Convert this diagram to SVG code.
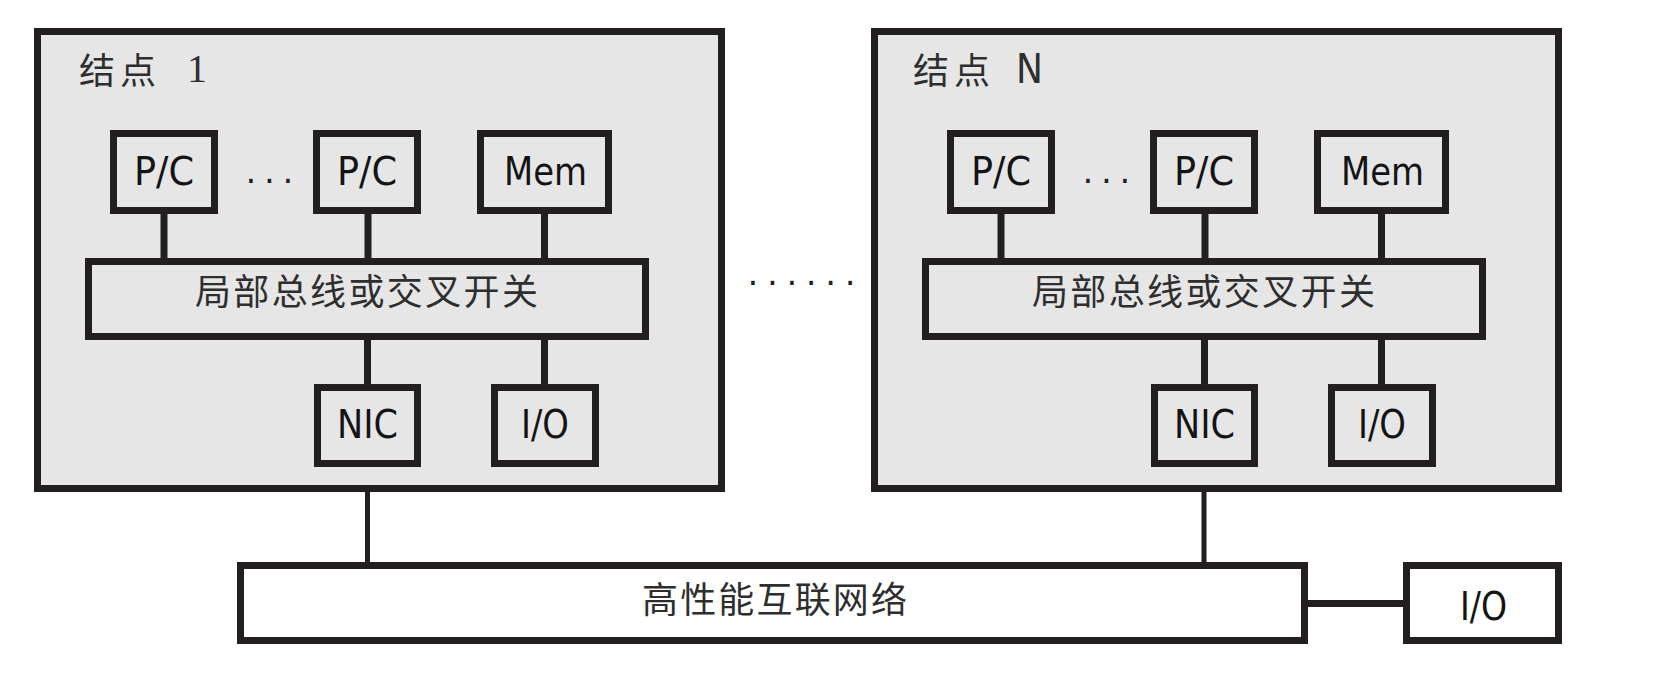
<svg xmlns="http://www.w3.org/2000/svg" width="1663" height="673" viewBox="0 0 1663 673">
<style>
.box{fill:#e6e6e6;stroke:#231f20;stroke-width:7}
.wbox{fill:#ffffff;stroke:#231f20;stroke-width:7}
.ln{stroke:#231f20;stroke-width:7;fill:none}
.thin{stroke:#231f20;stroke-width:5;fill:none}
.lbl{font-family:"DejaVu Sans Condensed","DejaVu Sans",sans-serif;font-size:39px;fill:#141414;text-anchor:middle}
.cjk{font-family:"Noto Sans CJK SC",sans-serif;font-size:36px;fill:#2e2e2e}
.dots{font-family:"DejaVu Sans",sans-serif;font-size:34px;fill:#231f20}
</style>
<rect width="1663" height="673" fill="#ffffff"/>

<g id="node1">
  <rect class="box" x="37.5" y="31.5" width="684" height="457"/>
  <text class="cjk" x="79" y="84" font-size="37" letter-spacing="5">结点<tspan x="187" y="82" letter-spacing="0" font-family="Liberation Serif,serif" font-size="40">1</tspan></text>
</g>
<g id="nodeN">
  <rect class="box" x="874.5" y="31.5" width="684" height="457"/>
  <text class="cjk" x="913" y="84" font-size="37" letter-spacing="5">结点<tspan x="1016" y="83" letter-spacing="0" font-family="DejaVu Sans Condensed,DejaVu Sans,sans-serif" font-size="40">N</tspan></text>
</g>

<g id="connectors">
  <line class="ln" x1="164" y1="214" x2="164" y2="258"/>
  <line class="ln" x1="368" y1="214" x2="368" y2="258"/>
  <line class="ln" x1="544.5" y1="214" x2="544.5" y2="258"/>
  <line class="ln" x1="367.5" y1="340" x2="367.5" y2="384"/>
  <line class="ln" x1="544.5" y1="340" x2="544.5" y2="384"/>
  <line class="ln" x1="1001" y1="214" x2="1001" y2="258"/>
  <line class="ln" x1="1205" y1="214" x2="1205" y2="258"/>
  <line class="ln" x1="1381.5" y1="214" x2="1381.5" y2="258"/>
  <line class="ln" x1="1204.5" y1="340" x2="1204.5" y2="384"/>
  <line class="ln" x1="1381.5" y1="340" x2="1381.5" y2="384"/>
  <line class="thin" x1="367.5" y1="492" x2="367.5" y2="562"/>
  <line class="thin" x1="1204" y1="492" x2="1204" y2="562"/>
  <line class="ln" x1="1308" y1="603.5" x2="1403" y2="603.5"/>
</g>

<g id="n1-pc1"><rect class="box" x="113.5" y="133.5" width="101" height="77"/><text class="lbl" x="164" y="185" textLength="60" lengthAdjust="spacingAndGlyphs">P/C</text></g>
<text class="dots" x="245.6" y="183" letter-spacing="7.7">...</text>
<g id="n1-pc2"><rect class="box" x="316.5" y="133.5" width="101" height="77"/><text class="lbl" x="367" y="185" textLength="60" lengthAdjust="spacingAndGlyphs">P/C</text></g>
<g id="n1-mem"><rect class="box" x="480.5" y="133.5" width="128" height="77"/><text class="lbl" x="545.5" y="185" textLength="83" lengthAdjust="spacingAndGlyphs">Mem</text></g>
<g id="n1-bus"><rect class="box" x="88.5" y="261.5" width="557" height="75"/><text class="cjk" x="195" y="305" textLength="343">局部总线或交叉开关</text></g>
<g id="n1-nic"><rect class="box" x="317.5" y="387.5" width="100" height="76"/><text class="lbl" x="367.5" y="438" textLength="61" lengthAdjust="spacingAndGlyphs">NIC</text></g>
<g id="n1-io"><rect class="box" x="494.5" y="387.5" width="101" height="76"/><text class="lbl" x="545" y="438" textLength="48" lengthAdjust="spacingAndGlyphs">I/O</text></g>

<g id="nN-pc1"><rect class="box" x="950.5" y="133.5" width="101" height="77"/><text class="lbl" x="1001" y="185" textLength="60" lengthAdjust="spacingAndGlyphs">P/C</text></g>
<text class="dots" x="1082.6" y="183" letter-spacing="7.7">...</text>
<g id="nN-pc2"><rect class="box" x="1153.5" y="133.5" width="101" height="77"/><text class="lbl" x="1204" y="185" textLength="60" lengthAdjust="spacingAndGlyphs">P/C</text></g>
<g id="nN-mem"><rect class="box" x="1317.5" y="133.5" width="128" height="77"/><text class="lbl" x="1382.5" y="185" textLength="83" lengthAdjust="spacingAndGlyphs">Mem</text></g>
<g id="nN-bus"><rect class="box" x="925.5" y="261.5" width="557" height="75"/><text class="cjk" x="1032" y="305" textLength="343">局部总线或交叉开关</text></g>
<g id="nN-nic"><rect class="box" x="1154.5" y="387.5" width="100" height="76"/><text class="lbl" x="1204.5" y="438" textLength="61" lengthAdjust="spacingAndGlyphs">NIC</text></g>
<g id="nN-io"><rect class="box" x="1331.5" y="387.5" width="101" height="76"/><text class="lbl" x="1382" y="438" textLength="48" lengthAdjust="spacingAndGlyphs">I/O</text></g>

<text class="dots" x="747.6" y="285" letter-spacing="8.6">......</text>

<g id="network"><rect class="wbox" x="240.5" y="565.5" width="1064" height="75"/><text class="cjk" x="642" y="613" font-size="35" textLength="265">高性能互联网络</text></g>
<g id="io-ext"><rect class="wbox" x="1406.5" y="565.5" width="152" height="75"/><text class="lbl" x="1483.5" y="620" textLength="47" lengthAdjust="spacingAndGlyphs">I/O</text></g>
</svg>
